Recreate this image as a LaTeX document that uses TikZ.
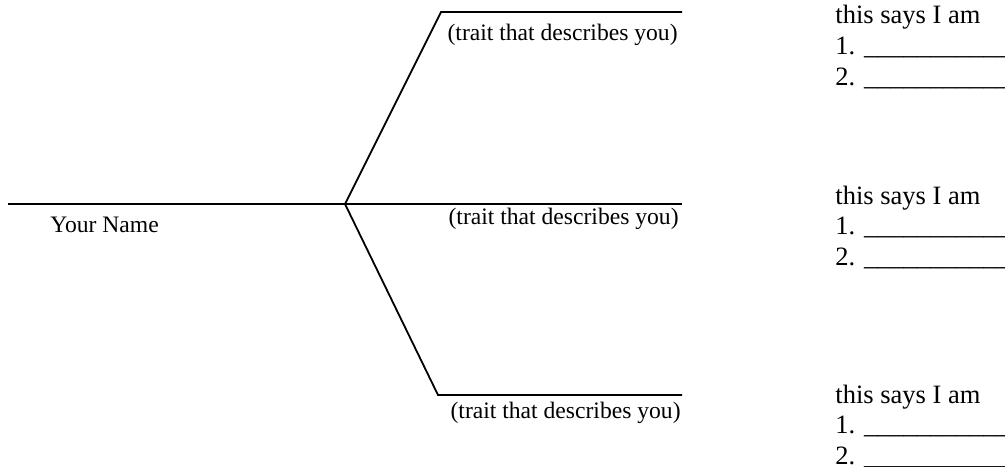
\documentclass[tikz,border=0pt]{standalone}
\usepackage{fontspec}
\setmainfont{Liberation Serif}
\usetikzlibrary{positioning}
\newcommand{\answerline}{\_\_\_\_\_\_\_\_\_\_\_\_}

\begin{document}
\begin{tikzpicture}[
    x=0.5pt, y=-0.5pt,
    branch/.style={line width=0.9pt, color=black, line join=miter},
    trait/.style={font=\fontsize{11.8}{14}\selectfont, inner sep=0pt},
    says/.style={font=\fontsize{13.25}{15.5}\selectfont, inner sep=0pt, anchor=base west}
  ]
    \useasboundingbox (0,0) rectangle (1005,466);
    % stem and the three branches
    \coordinate (start) at (8,204);
    \coordinate (hub) at (345,204);
    \coordinate (topbend) at (441,12);
    \coordinate (topend) at (682,12);
    \coordinate (midend) at (682,204);
    \coordinate (lowbend) at (438,395);
    \coordinate (lowend) at (682,395);
    \draw[branch] (start) -- (hub);
    \draw[branch] (hub) -- (topbend) -- (topend);
    \draw[branch] (hub) -- (midend);
    \draw[branch] (hub) -- (lowbend) -- (lowend);
    \node[trait, anchor=base west] (name) at (50,232) {Your Name};
    \node[trait, anchor=base east] (traittop) at (678,40) {(trait that describes you)};
    \node[trait, anchor=base east] (traitmid) at (679,224) {(trait that describes you)};
    \node[trait, anchor=base east] (traitlow) at (681,418) {(trait that describes you)};
    % answer lists on the right
    \foreach \y/\n in {24/top, 204/mid, 403/low} {
      \node[says] (says\n) at (835,\y) {this says I am};
      \node[says] (one\n) at (835,\y+30.5) {1. \answerline};
      \node[says] (two\n) at (835,\y+61) {2. \answerline};
    }
\end{tikzpicture}
\end{document}
